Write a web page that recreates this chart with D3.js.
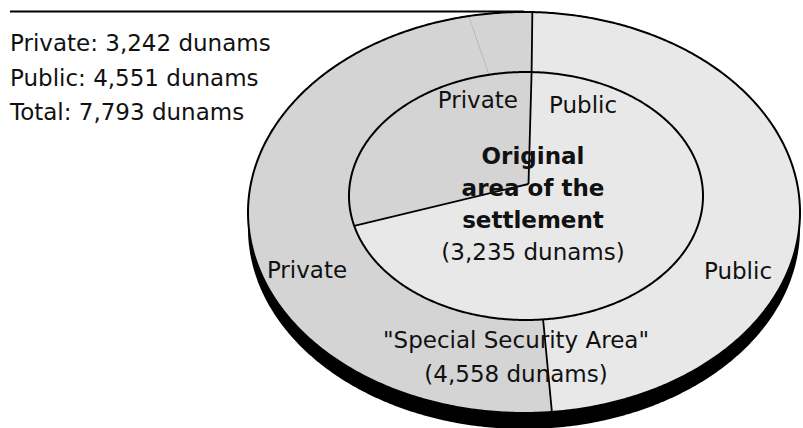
<!DOCTYPE html>
<html>
<head>
<meta charset="utf-8">
<script src="https://cdn.jsdelivr.net/npm/d3@7"></script>
<style>
  body { margin: 0; background: #fff; }
  text { font-family: Verdana, "DejaVu Sans", sans-serif; fill: #111; }
</style>
</head>
<body>
<div id="chart"></div>
<script>
// land ownership, dunams (as printed)
var categories = ["Private", "Public"];
var categoryTotals = [3242, 4551];

var areaNames = ["Original area of the settlement", "\"Special Security Area\""];
var areaTotals = [3235, 4558];

// original area (inner disc), clockwise from the top
var innerCats = ["Public", "Private"];
var innerValues = [2235, 1000];

// special security area (outer ring), clockwise from the top
var outerCats = ["Public", "Private", "Private"];
var outerValues = [2190, 2174, 194];

const width = 803, height = 428;
const colorPrivate = "#d4d4d4", colorPublic = "#e8e8e8";
const fontSize = 23;

// tilted disc seen in perspective: centre of the disc sits at apexY
var apexY = 184;
var depth = 16;
var startAngle = 2 * Math.PI / 180;

// builds a projection for a circle whose picture spans top..bottom and has half width hw
function makeView(cx, top, bottom, hw) {
    var a = apexY - top, b = bottom - apexY;
    var p = (a - b) / (a + b);          // perspective factor
    var B = a * (1 - p);
    var A = hw * Math.sqrt(1 - p * p);
    return function(t) {
        var v = -Math.cos(t), w = 1 + p * v;
        return [cx + A * Math.sin(t) / w, apexY + B * v / w];
    };
}

var outerView = makeView(524, 12, 413, 276);
var innerView = makeView(526, 72, 320, 177);

let svg = d3.select("#chart")
            .append("svg")
            .attr("width", width)
            .attr("height", height);

var fmt = d3.format(",");
var color = c => c === "Private" ? colorPrivate : colorPublic;

function arcPoints(view, a0, a1) {
    var n = Math.max(2, Math.ceil(Math.abs(a1 - a0) / 0.01));
    return d3.range(n + 1).map(i => view(a0 + (a1 - a0) * i / n));
}

var pie = d3.pie().sort(null).startAngle(startAngle).endAngle(startAngle + 2 * Math.PI);
var line = d3.line();
var full = [0, 2 * Math.PI];

// top rule
svg.append("line")
   .attr("x1", 10).attr("x2", 524)
   .attr("y1", 11.5).attr("y2", 11.5)
   .attr("stroke", "#000")
   .attr("stroke-width", 2);

// side of the disc
svg.append("path")
   .attr("d", line(arcPoints(outerView, full[0], full[1]).map(d => [d[0], d[1] + depth])) + "Z")
   .attr("fill", "#000");
svg.append("rect")
   .attr("x", 248).attr("y", 212.5)
   .attr("width", 552).attr("height", depth)
   .attr("fill", "#000");

// outer ring slices
var outerArcs = pie(outerValues);
svg.selectAll(".ring")
   .data(outerArcs)
   .enter()
   .append("path")
   .attr("class", "ring")
   .attr("d", d => line(arcPoints(outerView, d.startAngle, d.endAngle)
                         .concat(arcPoints(innerView, d.endAngle, d.startAngle))) + "Z")
   .attr("fill", (d, i) => color(outerCats[i]))
   .attr("stroke", (d, i) => color(outerCats[i]))
   .attr("stroke-width", 0.5);

// inner slices
var innerArcs = pie(innerValues);
var apex = [528.5, apexY];
svg.selectAll(".core")
   .data(innerArcs)
   .enter()
   .append("path")
   .attr("class", "core")
   .attr("d", d => line([apex].concat(arcPoints(innerView, d.startAngle, d.endAngle))) + "Z")
   .attr("fill", (d, i) => color(innerCats[i]))
   .attr("stroke", (d, i) => color(innerCats[i]))
   .attr("stroke-width", 0.5);

// ring dividers
svg.selectAll(".ring-div")
   .data(outerArcs)
   .enter()
   .append("line")
   .attr("class", "ring-div")
   .each(function(d, i) {
       var a = innerView(d.startAngle), b = outerView(d.startAngle);
       var same = outerCats[(i - 1 + outerCats.length) % outerCats.length] === outerCats[i];
       d3.select(this)
         .attr("x1", a[0]).attr("y1", a[1])
         .attr("x2", b[0]).attr("y2", b[1])
         .attr("stroke", same ? "#b8b8b8" : "#000")
         .attr("stroke-width", same ? 0.8 : 1.8);
   });

// inner dividers
svg.selectAll(".core-div")
   .data(innerArcs)
   .enter()
   .append("line")
   .attr("class", "core-div")
   .each(function(d) {
       var b = innerView(d.startAngle);
       d3.select(this)
         .attr("x1", apex[0]).attr("y1", apex[1])
         .attr("x2", b[0]).attr("y2", b[1])
         .attr("stroke", "#000")
         .attr("stroke-width", 1.8);
   });

// outlines
[outerView, innerView].forEach(view => {
    svg.append("path")
       .attr("d", line(arcPoints(view, full[0], full[1])) + "Z")
       .attr("fill", "none")
       .attr("stroke", "#000")
       .attr("stroke-width", 2);
});

// summary lines at top left
var summary = categories.map((c, i) => c + ": " + fmt(categoryTotals[i]) + " dunams");
summary.push("Total: " + fmt(d3.sum(categoryTotals)) + " dunams");
svg.selectAll(".summary")
   .data(summary)
   .enter()
   .append("text")
   .attr("class", "summary")
   .attr("x", 10)
   .attr("y", (d, i) => 51 + i * 34.5)
   .style("font-size", fontSize + "px")
   .text(d => d);

// slice labels
function label(txt, x, y, anchor, bold) {
    svg.append("text")
       .attr("x", x).attr("y", y)
       .attr("text-anchor", anchor)
       .style("font-size", fontSize + "px")
       .style("font-weight", bold ? "bold" : "normal")
       .text(txt);
}

label(innerCats[1], 518, 108, "end");
label(innerCats[0], 549, 113, "start");
label(outerCats[1], 307, 278, "middle");
label(outerCats[0], 738, 279, "middle");

// area titles
var coreTitle = ["Original", "area of the", "settlement"];
coreTitle.forEach((t, i) => label(t, 533, 164 + i * 32, "middle", true));
label("(" + fmt(areaTotals[0]) + " dunams)", 533, 260, "middle");
label(areaNames[1], 516, 348, "middle");
label("(" + fmt(areaTotals[1]) + " dunams)", 516, 382, "middle");
</script>
</body>
</html>
